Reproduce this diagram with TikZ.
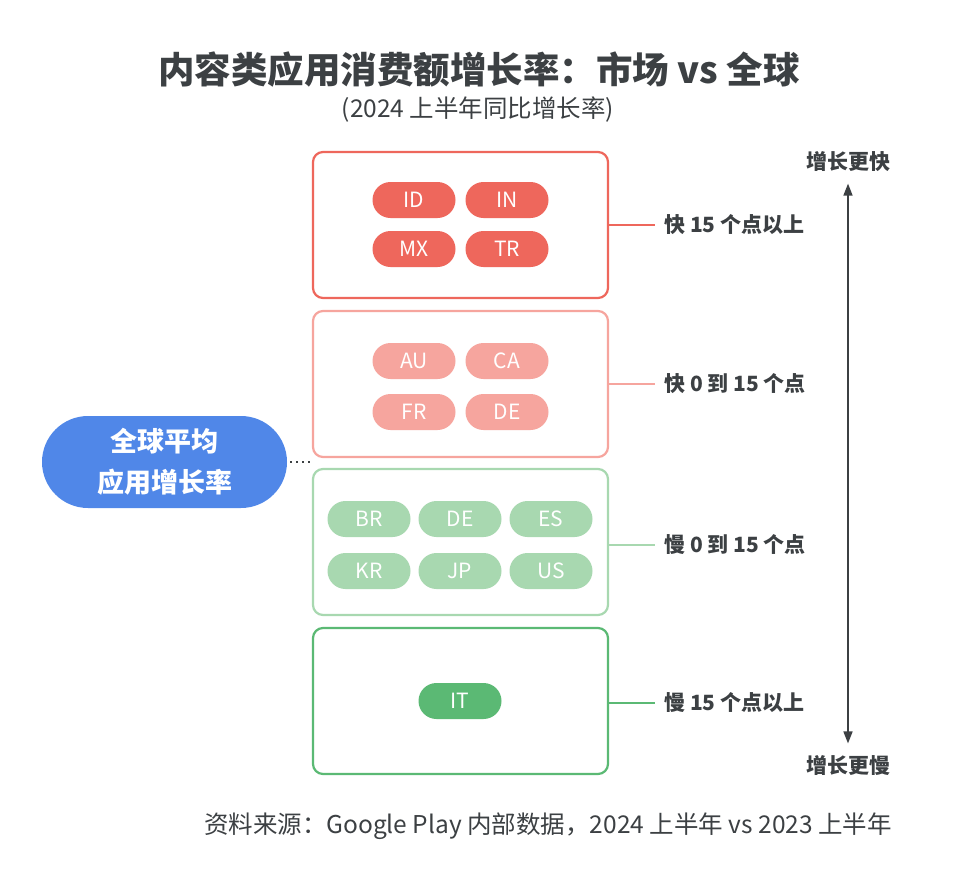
\documentclass[tikz,border=0pt]{standalone}
\usepackage{fontspec}
\setmainfont{Noto Sans CJK SC}
\usetikzlibrary{arrows.meta}

\definecolor{redA}{HTML}{EE675C}
\definecolor{redB}{HTML}{F6A59E}
\definecolor{greenA}{HTML}{5BB974}
\definecolor{greenB}{HTML}{A8D8B0}
\definecolor{blueA}{HTML}{5087E8}
\definecolor{ink}{HTML}{3C4043}

\begin{document}
\begin{tikzpicture}[
	x=1pt, y=-1pt,
	box/.style = {rectangle, rounded corners=10pt, line width=2.2pt, fill=white, minimum width=295pt, minimum height=146pt},
	pill/.style = {rectangle, rounded corners=18pt, minimum width=83pt, minimum height=36pt, text=white, inner sep=0pt, font=\fontsize{21}{24}\selectfont},
	lab/.style = {anchor=west, inner xsep=9pt, text=ink, font=\bfseries\fontsize{21}{25}\selectfont},
	r/.style = {line width=1.3pt}
	]

	\useasboundingbox (0, 0) rectangle (956, 876);

	% ===== ===== ===== ===== =====

	% Title
	\node[text=ink, font=\bfseries\fontsize{36.5}{42}\selectfont]	(title)	at	(479, 70)	{内容类应用消费额增长率：市场 vs 全球};
	\node[text=ink, font=\fontsize{24.5}{28}\selectfont]	(sub)	at	(478, 110)	{(2024 上半年同比增长率)};

	% ===== ===== ===== ===== =====

	% Nodes
	\node[box, draw=redA]	(box1)	at	(460.5, 225)	{};
	\node[pill, fill=redA]	(id)	at	(414, 200)	{ID};
	\node[pill, fill=redA]	(in)	at	(507, 200)	{IN};
	\node[pill, fill=redA]	(mx)	at	(414, 249)	{MX};
	\node[pill, fill=redA]	(tr)	at	(507, 249)	{TR};
	\node[lab]	(lab1)	at	(655, 225)	{快 15 个点以上};

	% Lines
	\draw[r, redA]	(box1.east)	--	(lab1.west);

	% ===== ===== ===== ===== =====

	% Nodes
	\node[box, draw=redB]	(box2)	at	(460.5, 384)	{};
	\node[pill, fill=redB]	(au)	at	(414, 361)	{AU};
	\node[pill, fill=redB]	(ca)	at	(507, 361)	{CA};
	\node[pill, fill=redB]	(fr)	at	(414, 412)	{FR};
	\node[pill, fill=redB]	(de1)	at	(507, 412)	{DE};
	\node[lab]	(lab2)	at	(655, 384)	{快 0 到 15 个点};

	% Lines
	\draw[r, redB]	(box2.east)	--	(lab2.west);

	% ===== ===== ===== ===== =====

	% Nodes
	\node[box, draw=greenB]	(box3)	at	(460.5, 542)	{};
	\node[pill, fill=greenB]	(br)	at	(369, 519)	{BR};
	\node[pill, fill=greenB]	(de2)	at	(460, 519)	{DE};
	\node[pill, fill=greenB]	(es)	at	(551, 519)	{ES};
	\node[pill, fill=greenB]	(kr)	at	(369, 571)	{KR};
	\node[pill, fill=greenB]	(jp)	at	(460, 571)	{JP};
	\node[pill, fill=greenB]	(us)	at	(551, 571)	{US};
	\node[lab]	(lab3)	at	(655, 545)	{慢 0 到 15 个点};

	% Lines
	\draw[r, greenB]	(box3.east |- lab3.west)	--	(lab3.west);

	% ===== ===== ===== ===== =====

	% Nodes
	\node[box, draw=greenA]	(box4)	at	(460.5, 701)	{};
	\node[pill, fill=greenA]	(it)	at	(460, 701)	{IT};
	\node[lab]	(lab4)	at	(655, 703)	{慢 15 个点以上};

	% Lines
	\draw[r, greenA]	(box4.east |- lab4.west)	--	(lab4.west);

	% ===== ===== ===== ===== =====

	% Scale
	\node[text=ink, font=\bfseries\fontsize{21}{25}\selectfont]	(fast)	at	(848, 162)	{增长更快};
	\node[text=ink, font=\bfseries\fontsize{21}{25}\selectfont]	(slow)	at	(848, 765)	{增长更慢};
	\draw[{Triangle[length=12pt, width=9pt]}-{Triangle[length=12pt, width=9pt]}, line width=1.6pt, ink, shorten <=8pt, shorten >=8pt]	(fast.south)	--	(slow.north);

	% Global average
	\node[rectangle, rounded corners=46pt, fill=blueA, minimum width=245pt, minimum height=92pt, text=white, align=center, font=\bfseries\fontsize{27}{41}\selectfont]	(avg)	at	(164.5, 462)	{全球平均\\应用增长率};
	\draw[line width=1.4pt, dash pattern=on 1.4pt off 4.6pt, ink]	(avg.east)	++(3, 0)	--	(avg.east -| box3.west);

	% Source
	\node[text=ink, font=\fontsize{24.5}{28}\selectfont]	(src)	at	(548, 826)	{资料来源：Google Play 内部数据，2024 上半年 vs 2023 上半年};

\end{tikzpicture}
\end{document}
